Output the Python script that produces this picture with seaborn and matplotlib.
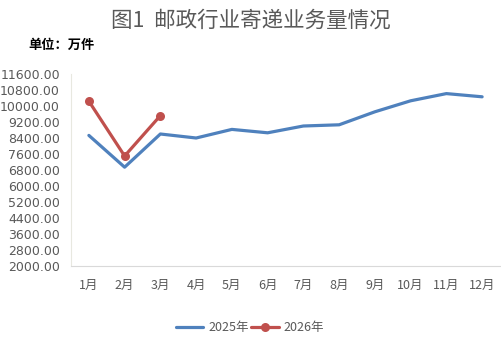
import matplotlib
matplotlib.use("Agg")
import matplotlib.pyplot as plt
import seaborn as sns
import pandas as pd
import numpy as np

months = ["1月", "2月", "3月", "4月", "5月", "6月", "7月", "8月", "9月", "10月", "11月", "12月"]
v2025 = [8530, 6940, 8600, 8400, 8830, 8660, 9000, 9060, 9710, 10260, 10620, 10460]
v2026 = [10240, 7500, 9520]
yticks = [2000, 2800, 3600, 4400, 5200, 6000, 6800, 7600, 8400, 9200, 10000, 10800, 11600]

sns.set_theme(style="white")
plt.rcParams['font.family'] = ['Noto Sans CJK SC', 'DejaVu Sans']

fig = plt.figure(figsize=(5.02, 3.49), dpi=100)
ax = fig.add_axes([71/502, 1-266/349, 429/502, 192/349])

df1 = pd.DataFrame({"x": np.arange(len(v2025)), "y": v2025})
df2 = pd.DataFrame({"x": np.arange(len(v2026)), "y": v2026})
sns.lineplot(data=df1, x="x", y="y", ax=ax, color="#4F81BD", linewidth=2.3, label="2025年")
sns.lineplot(data=df2, x="x", y="y", ax=ax, color="#C0504D", linewidth=2.3, marker="o",
             markersize=6.5, markeredgewidth=0, label="2026年")

ax.set_xlim(-0.5, 11.5)
ax.set_ylim(2000, 11600)
ax.set_yticks(yticks)
ax.set_yticklabels([f"{v:.2f}" for v in yticks], fontsize=9, color="#595959",
                   family=['DejaVu Sans'])
ax.set_xticks(np.arange(12))
ax.set_xticklabels(months, fontsize=9, color="#595959")
ax.set_xticks(np.arange(-0.5, 12, 1), minor=True)
ax.tick_params(axis='x', which='major', length=0, pad=9)
ax.tick_params(axis='x', which='minor', length=4, direction='in', color="#d9d9d9", width=0.8)
ax.tick_params(axis='y', length=4, direction='out', color="#e0e0e0", width=0.8, pad=4)
ax.set_xlabel("")
ax.set_ylabel("")
for s in ["top", "right"]:
    ax.spines[s].set_visible(False)
ax.spines["left"].set_color("#e8e8e0")
ax.spines["bottom"].set_color("#d9d9d9")
ax.spines["left"].set_linewidth(0.8)
ax.spines["bottom"].set_linewidth(0.8)
ax.grid(False)

leg = ax.legend(loc="center", bbox_to_anchor=((250 - 71) / 429, -(328 - 266) / 192),
                ncol=2, frameon=False, fontsize=9, handlelength=2.2, columnspacing=0.2,
                handletextpad=0.4)
for t in leg.get_texts():
    t.set_color("#595959")

fig.text(0.5, 1-21/349, "图1  邮政行业寄递业务量情况", ha="center", va="center", fontsize=15.5,
         color="#595959")
fig.text(28/502, 1-45/349, "单位：万件", ha="left", va="center", fontsize=9.5, fontweight="bold",
         color="#000000")

fig.savefig("out.png", dpi=100)
